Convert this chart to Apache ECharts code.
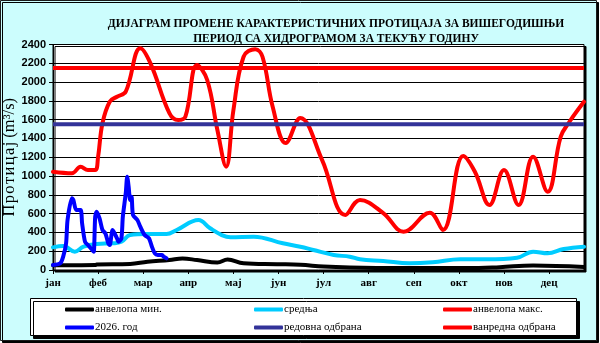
<!DOCTYPE html>
<html>
<head>
<meta charset="utf-8">
<script src="https://cdn.jsdelivr.net/npm/echarts@6/dist/echarts.min.js"></script>
<style>
  html, body { margin: 0; padding: 0; background: #ffffff; }
  #chart { width: 600px; height: 343px; }
</style>
</head>
<body>
<div id="chart"></div>
<script>
// Month tick labels (one every 31 days on a 365-day axis)
const months = ['јан', 'феб', 'мар', 'апр', 'мај', 'јун', 'јул', 'авг', 'сеп', 'окт', 'нов', 'дец'];

// Minimum envelope, m3/s (day of year, value)
const minDays   = [0, 29, 30, 53, 65, 80, 89, 99, 113, 120, 131, 154, 170, 186, 204, 238, 285, 307, 330, 365];
const minValues = [50, 52, 58, 64, 88, 106, 122, 106, 80, 112, 72, 62, 55, 36, 26, 20, 20, 30, 48, 32];

// Long-term mean
const meanDays   = [0, 7, 15, 21, 30, 41, 47, 53, 65, 78, 85, 100, 108, 116, 122, 138, 158, 170, 179, 193, 204, 211, 227, 245, 261, 280, 298, 319, 330, 340, 351, 365];
const meanValues = [241, 255, 195, 248, 277, 284, 300, 372, 383, 383, 426, 532, 444, 372, 348, 355, 284, 248, 213, 160, 142, 114, 96, 71, 82, 114, 114, 131, 195, 177, 223, 248];

// Maximum envelope
const maxDays   = [0, 13, 19, 24, 29, 31, 34, 39, 44, 50, 60, 67, 80, 86, 91, 99, 106, 113, 119, 124, 131, 139, 144, 151, 160, 170, 185, 201, 211, 227, 241, 259, 268, 282, 290, 300, 310, 320, 330, 340, 349, 355, 365];
const maxValues = [1046, 1030, 1099, 1064, 1064, 1206, 1562, 1791, 1844, 1898, 2360, 2199, 1670, 1596, 1632, 2182, 2022, 1490, 1100, 1700, 2270, 2350, 2270, 1738, 1351, 1618, 1170, 585, 745, 606, 408, 610, 426, 1213, 1046, 692, 1064, 692, 1206, 833, 1419, 1578, 1791];

// Current year 2026 daily discharge
const curDays   = [0, 5, 7, 9, 10, 13, 14, 16, 19, 20, 22, 24, 27, 28, 29, 30, 32, 34, 36, 38, 39, 41, 44, 45, 47, 48, 50, 51, 52, 53, 54, 55, 58, 60, 63, 66, 68, 70, 72, 75, 76, 78];
const curValues = [53, 71, 142, 284, 532, 763, 745, 638, 638, 497, 301, 266, 213, 195, 567, 621, 550, 426, 390, 284, 266, 426, 337, 301, 337, 567, 816, 993, 887, 745, 780, 585, 532, 461, 372, 337, 248, 177, 160, 160, 142, 124];

// Flood defence thresholds
const regularDefence = 1550;
const emergencyDefence = 2150;

const yTicks = { min: 0, max: 2400, step: 200 };

const pairs = (xs, ys) => xs.map((d, i) => [d, ys[i]]);

const serif = 'Liberation Serif';
const sans = 'Liberation Sans';

const chart = echarts.init(document.getElementById('chart'), null, { renderer: 'canvas' });

const lineSeries = (name, data, color, width, smooth, z) => ({
  name, type: 'line', data, smooth, symbol: 'none', z,
  lineStyle: { color, width, cap: 'round', join: 'round' },
  itemStyle: { color }
});

const levelSeries = (name, value, color, z) => ({
  name, type: 'line', symbol: 'none', z,
  data: [[0, value], [365, value]],
  lineStyle: { color, width: 4 },
  itemStyle: { color }
});

// One legend entry per block so each sits at its own spot in the key box
const legendItem = (name, left, top) => ({
  left, top, padding: 0, orient: 'horizontal',
  itemWidth: 29, itemHeight: 4, icon: 'roundRect', selectedMode: false,
  formatter: '{t|{name}}',
  textStyle: {
    padding: [0, 0, 0, -4],
    rich: { t: { fontFamily: serif, fontSize: 11, color: '#000' } }
  },
  data: [name]
});

chart.setOption({
  animation: false,
  backgroundColor: 'transparent',
  textStyle: { fontFamily: serif },
  graphic: [
    {
      type: 'rect', z: -10, silent: true,
      shape: { x: 0.5, y: 0.5, width: 596, height: 340 },
      style: { fill: '#ccfdfd', stroke: '#1a1a1a', lineWidth: 1,
               shadowColor: '#000', shadowOffsetX: 2, shadowOffsetY: 2, shadowBlur: 0 }
    },
    {
      type: 'rect', z: -5, silent: true,
      shape: { x: 30.5, y: 298.5, width: 546, height: 37 },
      style: { fill: '#ffffff', stroke: '#000', lineWidth: 1,
               shadowColor: '#000', shadowOffsetX: 3, shadowOffsetY: 3, shadowBlur: 0 }
    }
  ],
  title: {
    text: 'ДИЈАГРАМ ПРОМЕНЕ КАРАКТЕРИСТИЧНИХ ПРОТИЦАЈА ЗА ВИШЕГОДИШЊИ\nПЕРИОД СА ХИДРОГРАМОМ ЗА ТЕКУЋУ ГОДИНУ',
    left: 331, top: 12, textAlign: 'center',
    textStyle: { fontFamily: serif, fontWeight: 'bold', fontSize: 11.5, lineHeight: 14.5, color: '#000' }
  },
  grid: {
    left: 53, right: 16, top: 44.5, bottom: 73,
    outerBoundsMode: 'none', containLabel: false,
    show: true, backgroundColor: '#ffffff', borderColor: '#000', borderWidth: 1,
    shadowColor: '#000', shadowOffsetX: 2, shadowOffsetY: 2, shadowBlur: 0
  },
  legend: [
    legendItem('анвелопа мин.', 65, 304),
    legendItem('2026. год', 65, 322),
    legendItem('средња', 254, 304),
    legendItem('редовна одбрана', 254, 322),
    legendItem('анвелопа макс.', 443, 304),
    legendItem('ванредна одбрана', 443, 322)
  ],
  xAxis: {
    type: 'value', min: 0, max: 365, interval: 31,
    axisLine: { show: true, lineStyle: { color: '#000', width: 1 } },
    axisTick: { show: true, inside: false, length: 4, lineStyle: { color: '#000' } },
    splitLine: { show: false },
    axisLabel: {
      showMaxLabel: false, margin: 8,
      fontFamily: serif, fontWeight: 'bold', fontSize: 11, color: '#000',
      formatter: v => (v % 31 === 0 && v / 31 < months.length) ? months[v / 31] : ''
    }
  },
  yAxis: {
    type: 'value', min: yTicks.min, max: yTicks.max, interval: yTicks.step,
    name: 'П\u200Aр\u200Aо\u200Aт\u200Aи\u200Aц\u200Aа\u200Aј (m³/s)', nameLocation: 'middle', nameGap: 35, nameRotate: 90,
    nameMoveOverlap: false,
    nameTextStyle: { fontFamily: serif, fontSize: 16.5, color: '#000' },
    axisLine: { show: true, lineStyle: { color: '#000', width: 1 } },
    axisTick: { show: true, inside: false, length: 4, lineStyle: { color: '#000' } },
    splitLine: { show: true, lineStyle: { color: '#000', width: 1 } },
    axisLabel: {
      fontFamily: sans, fontWeight: 'bold', fontSize: 11, color: '#000', margin: 7,
      formatter: v => String(v)
    }
  },
  series: [
    lineSeries('анвелопа мин.', pairs(minDays, minValues), '#000000', 4, 0.4, 3),
    lineSeries('средња', pairs(meanDays, meanValues), '#00ccff', 4, 0.4, 4),
    lineSeries('анвелопа макс.', pairs(maxDays, maxValues), '#ff0000', 4, 0.4, 5),
    lineSeries('2026. год', pairs(curDays, curValues), '#0000ff', 4, 0.25, 8),
    levelSeries('редовна одбрана', regularDefence, '#333399', 6),
    levelSeries('ванредна одбрана', emergencyDefence, '#ff0000', 7)
  ]
});
</script>
</body>
</html>
